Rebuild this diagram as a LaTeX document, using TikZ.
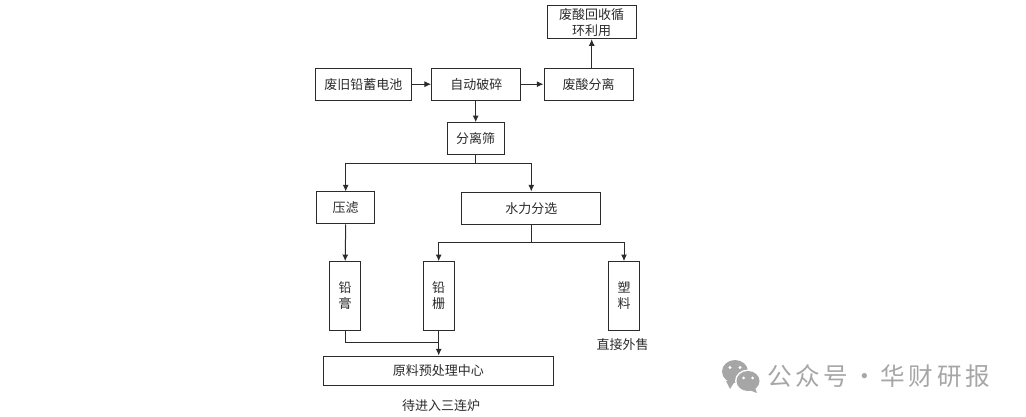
\documentclass[tikz,border=0pt]{standalone}
\usepackage{fontspec}
\setmainfont{Noto Sans CJK SC}
\newfontfamily\wmfont[LetterSpace=14]{Noto Sans CJK SC}
\usetikzlibrary{arrows.meta}
\definecolor{ink}{HTML}{2B2B2B}
\definecolor{wm}{HTML}{A6A6A6}
\tikzset{
  boxnode/.style={draw=ink,line width=0.75pt,rectangle,inner sep=0pt,align=center,text=ink,font=\fontsize{9.75pt}{12pt}\selectfont},
  sz/.style 2 args={minimum width=#1*0.75pt,minimum height=#2*0.75pt},
  plain/.style={inner sep=0pt,text=ink,font=\fontsize{9.75pt}{12pt}\selectfont},
  link/.style={draw=ink,line width=0.75pt},
  arr/.style={link,-{Latex[length=5pt,width=4.5pt]}}
}
\begin{document}
\begin{tikzpicture}[x=0.75pt,y=-0.75pt]
\useasboundingbox (0,0) rectangle (1026,417);
\node[boxnode,sz={95.3}{32}] (old) at (363.4,84.2) {废旧铅蓄电池};
\node[boxnode,sz={89.3}{32}] (crush) at (476.3,84.2) {自动破碎};
\node[boxnode,sz={89}{32}] (acid) at (588.5,84.2) {废酸分离};
\node[boxnode,sz={88.7}{32.7}] (recy) at (591.7,22.3) {废酸回收循\\环利用};
\node[boxnode,sz={56.7}{32}] (sieve) at (475.7,138.7) {分离筛};
\node[boxnode,sz={58}{32}] (press) at (345.7,208) {压滤};
\node[boxnode,sz={139.3}{32.3}] (water) at (531.3,208.2) {水力分选};
\node[boxnode,sz={31}{68.6}] (paste) at (345.2,296) {铅\\膏};
\node[boxnode,sz={30.7}{68.6}] (grid) at (438.7,296) {铅\\栅};
\node[boxnode,sz={30.6}{68.6}] (plastic) at (624,296) {塑\\料};
\node[boxnode,sz={230}{29.3}] (center) at (438.3,370.7) {原料预处理中心};
\node[plain] (sell) at (622.7,345) {直接外售};
\node[plain] (furn) at (441,406) {待进入三连炉};
\coordinate (j1) at (475.7,163.3);
\coordinate (j2) at (531.3,243);
\coordinate (j3) at (438.7,343);
\draw[arr] (old.east) -- (crush.west);
\draw[arr] (crush.east) -- (acid.west);
\draw[arr] (recy.south |- acid.north) -- (recy.south);
\draw[arr] (sieve.north |- crush.south) -- (sieve.north);
\draw[link] (sieve.south) -- (j1);
\draw[arr] (j1) -| (press.north);
\draw[arr] (j1) -| (water.north);
\draw[arr] (press.south) -- (paste.north);
\draw[link] (water.south) -- (j2);
\draw[arr] (j2) -| (grid.north);
\draw[arr] (j2) -| (plastic.north);
\draw[link] (paste.south) |- (j3);
\draw[arr] (grid.south) -- (grid.south |- center.north);
% watermark
\fill[wm] (735,371.5) ellipse [x radius=13,y radius=11.5];
\fill[wm] (726,381) -- (730,389) -- (735,381) -- cycle;
\fill[white] (748,381) ellipse [x radius=13,y radius=11.5];
\fill[wm] (748,381) ellipse [x radius=11.5,y radius=10];
\fill[wm] (755,388) -- (757,393) -- (749,390) -- cycle;
\fill[white] (730,367.5) circle (1.7) (740,367.5) circle (1.7) (743.5,378) circle (1.5) (752.5,378) circle (1.5);
\node[inner sep=0pt,anchor=west,text=wm,font=\fontsize{18.5pt}{22pt}\wmfont] (mark) at (767,376.5) {公众号\kern3pt·\kern3pt华财研报};
\end{tikzpicture}
\end{document}
